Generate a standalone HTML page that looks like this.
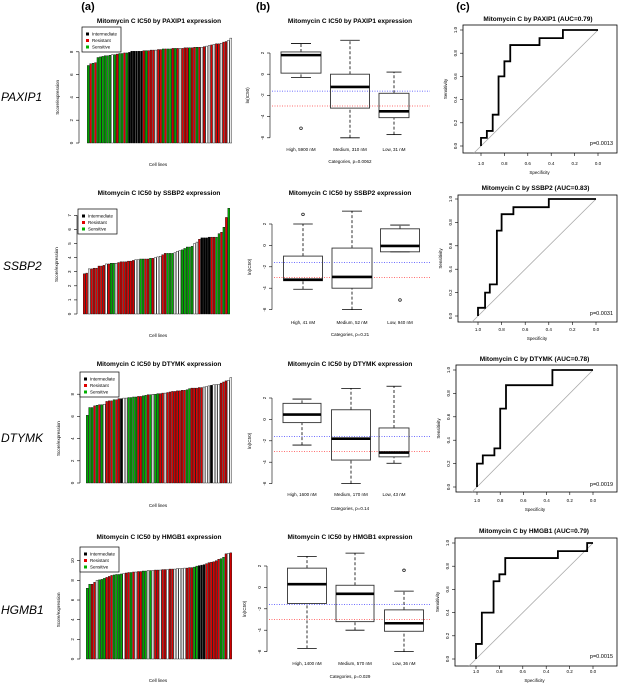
<!DOCTYPE html>
<html><head><meta charset="utf-8"><style>
html,body{margin:0;padding:0;background:#fff;}
svg{display:block;font-family:"Liberation Sans",sans-serif;}
</style></head><body>
<svg id="fig" width="619" height="685" viewBox="0 0 619 685">
<text x="88" y="10" font-size="11" font-weight="bold" text-anchor="middle">(a)</text>
<text x="263" y="10" font-size="11" font-weight="bold" text-anchor="middle">(b)</text>
<text x="463" y="10" font-size="11" font-weight="bold" text-anchor="middle">(c)</text>
<text x="1" y="101" font-size="12" font-style="italic" text-anchor="start">PAXIP1</text>
<text x="3" y="270" font-size="12" font-style="italic" text-anchor="start">SSBP2</text>
<text x="1" y="442" font-size="12" font-style="italic" text-anchor="start">DTYMK</text>
<text x="1" y="614" font-size="12" font-style="italic" text-anchor="start">HGMB1</text>
</svg>
<script>
// ---------- data ----------
const genes = ["PAXIP1","SSBP2","DTYMK","HMGB1"];
const barVals1 = [6.8,6.95,7.0,7.05,7.5,7.55,7.6,7.65,7.65,7.7,7.75,7.75,7.8,7.85,7.85,7.9,7.9,7.95,8.05,8.05,8.05,8.05,8.05,8.1,8.1,8.1,8.15,8.15,8.15,8.2,8.2,8.25,8.25,8.25,8.25,8.3,8.3,8.3,8.3,8.3,8.35,8.35,8.35,8.35,8.4,8.4,8.4,8.4,8.45,8.5,8.55,8.6,8.65,8.7,8.7,8.75,8.85,8.9,9.0,9.2];
const barCols1 = "GRGRGGGGGGWGRGGRGKKKKKKRGRRRWRRGRGGRGRWRRRGRRGRWRWWRWRRWRRWW";
const barVals2 = [2.85,2.9,3.2,3.2,3.25,3.25,3.4,3.4,3.45,3.55,3.55,3.6,3.6,3.6,3.65,3.7,3.7,3.7,3.75,3.75,3.8,3.85,3.85,3.9,3.9,3.9,3.9,3.95,3.95,4.0,4.05,4.1,4.2,4.3,4.3,4.3,4.3,4.35,4.45,4.5,4.55,4.65,4.75,4.75,4.8,5.0,5.1,5.3,5.4,5.4,5.4,5.45,5.45,5.45,5.45,5.7,5.8,6.15,6.85,7.5];
const barCols2 = "RRWRRRRRRWRGGWRRRRRRRWWGGRRGRWWWRRGGGWWWGGGGGWWRKKKKRRGGRGRG";
const barVals3 = [6.1,6.8,6.8,6.95,7.0,7.05,7.05,7.1,7.35,7.4,7.4,7.5,7.5,7.6,7.6,7.65,7.65,7.7,7.7,7.75,7.75,7.8,7.8,7.85,7.9,7.95,7.95,8.0,8.0,8.05,8.05,8.1,8.1,8.15,8.2,8.25,8.25,8.3,8.3,8.35,8.35,8.4,8.5,8.55,8.55,8.55,8.6,8.6,8.65,8.7,8.75,8.8,8.85,8.85,8.9,9.0,9.1,9.2,9.25,9.5];
const barCols3 = "GGGRGRGWRRRGRRKWWGGGGRRGGRGWGGRRWRRRRRRRRGGRRRRRWWWKWWWRRRWW";
const barVals4 = [7.2,7.6,7.6,7.8,8.0,8.05,8.1,8.2,8.3,8.4,8.5,8.55,8.6,8.6,8.65,8.7,8.75,8.8,8.8,8.85,8.85,8.9,8.9,8.95,8.95,9.0,9.0,9.0,9.05,9.05,9.05,9.1,9.1,9.1,9.15,9.15,9.15,9.2,9.2,9.2,9.25,9.25,9.3,9.3,9.35,9.45,9.5,9.55,9.6,9.7,9.8,9.85,9.9,10.0,10.15,10.2,10.35,10.7,10.75,10.8];
const barCols4 = "GGRRWGGGRRRGGGGWRRGRWRRGGWGWRRWRRWRRWWWWWRRRGGKKKRRRRRRGGRWR";
const barTicks1 = [0,2,4,6,8];
const barTicks2 = [0,1,2,3,4,5,6,7];
const barTicks3 = [0,2,4,6,8];
const barTicks4 = [0,2,4,6,8,10];
// box stats: [lowWhisker, Q1, median, Q3, highWhisker]
const boxStats1 = [[-0.3,0.1,1.8,2.1,2.9],[-6,-3.2,-1.2,0.0,3.2],[-5.7,-4.1,-3.5,-1.8,0.2]];
const boxStats2 = [[-4.1,-3.3,-3.2,-1.0,2.0],[-6,-4.0,-2.95,-0.25,3.2],[-0.6,-0.6,-0.05,1.55,1.9]];
const boxStats3 = [[-2.4,-0.3,0.45,1.5,1.9],[-6,-3.8,-1.8,0.9,2.9],[-4.1,-3.5,-3.1,-0.8,3.1]];
const boxStats4 = [[-5.7,-1.5,0.3,1.8,2.9],[-4.0,-3.2,-0.6,0.2,3.2],[-6.0,-4.1,-3.35,-2.1,-0.35]];
const boxOutliers1 = [[-5.1],[],[]];
const boxOutliers2 = [[2.9],[],[-5.1]];
const boxOutliers3 = [[],[],[]];
const boxOutliers4 = [[],[],[1.6]];
const boxLabels1 = ["High, 5900 nM","Medium, 310 nM","Low, 31 nM"];
const boxLabels2 = ["High, 41 nM","Medium, 52 nM","Low, 940 nM"];
const boxLabels3 = ["High, 1600 nM","Medium, 170 nM","Low, 43 nM"];
const boxLabels4 = ["High, 1400 nM","Medium, 570 nM","Low, 36 nM"];
const boxPvals = ["0.0062","0.21","0.14","0.029"];
const boxTicks = [-6,-4,-2,0,2];
const refBlue = -1.6;
const refRed = -3.0;
const rocSpec1 = [1,1,0.95,0.95,0.9,0.9,0.85,0.85,0.8,0.8,0.75,0.75,0.5,0.5,0.3,0.3,0];
const rocSens1 = [0,0.07,0.07,0.13,0.13,0.27,0.27,0.6,0.6,0.73,0.73,0.87,0.87,0.93,0.93,1,1];
const rocSpec2 = [1,1,0.94,0.94,0.9,0.9,0.84,0.84,0.8,0.8,0.7,0.7,0.4,0.4,0];
const rocSens2 = [0,0.07,0.07,0.2,0.2,0.27,0.27,0.73,0.73,0.87,0.87,0.93,0.93,1,1];
const rocSpec3 = [1,1,0.95,0.95,0.85,0.85,0.8,0.8,0.75,0.75,0.35,0.35,0];
const rocSens3 = [0,0.2,0.2,0.27,0.27,0.33,0.33,0.67,0.67,0.87,0.87,1,1];
const rocSpec4 = [1,1,0.95,0.95,0.85,0.85,0.8,0.8,0.75,0.75,0.3,0.3,0.05,0.05,0];
const rocSens4 = [0,0.13,0.13,0.4,0.4,0.67,0.67,0.73,0.73,0.87,0.87,0.93,0.93,1,1];
const rocAUC = ["0.79","0.83","0.78","0.79"];
const rocP = ["0.0013","0.0031","0.0019","0.0015"];
const rocTicks = [0,0.2,0.4,0.6,0.8,1.0];

// ---------- layout ----------
const L = [
 {bt:23, bAx:79, b0:143, bU:11.4, bx0:87, bx1:232, lg:[82,27], cl:166, ylab:59,
  xAx:270, x2:53, xU:10.6, cs:[301,350,394], ws:[40,39,30], xl:151, cat:163, xr:430,
  rf:[463,25,617,153], r1x:481, r0x:598, r0y:146, r1y:30, rt:21, rl:165, rs:174},
 {bt:195, bAx:77, b0:314, bU:14.1, bx0:83, bx1:230, lg:[78,209], cl:337, ylab:58,
  xAx:272, x2:224, xU:10.7, cs:[303,352,400], ws:[39,40,39], xl:324, cat:336, xr:430,
  rf:[458,195,617,322], r1x:478, r0x:596, r0y:316, r1y:199, rt:190, rl:331, rs:340},
 {bt:366, bAx:80, b0:483, bU:11.1, bx0:86, bx1:232, lg:[80,372], cl:507, ylab:60,
  xAx:272, x2:398, xU:10.7, cs:[302,351,394], ws:[38,39,30], xl:496, cat:510, xr:430,
  rf:[456,365,617,492], r1x:477, r0x:593, r0y:487, r1y:370, rt:361, rl:502, rs:511},
 {bt:539, bAx:80, b0:659, bU:9.83, bx0:86, bx1:232, lg:[80,547], cl:682, ylab:60,
  xAx:267, x2:566, xU:10.7, cs:[307,355,404], ws:[39,38,39], xl:665, cat:678, xr:430,
  rf:[455,538,617,666], r1x:476, r0x:593, r0y:659, r1y:543, rt:533, rl:673, rs:682}
];
const barVals=[barVals1,barVals2,barVals3,barVals4], barCols=[barCols1,barCols2,barCols3,barCols4];
const barTicks=[barTicks1,barTicks2,barTicks3,barTicks4];
const boxStats=[boxStats1,boxStats2,boxStats3,boxStats4], boxOut=[boxOutliers1,boxOutliers2,boxOutliers3,boxOutliers4];
const boxLabels=[boxLabels1,boxLabels2,boxLabels3,boxLabels4];
const rocSpec=[rocSpec1,rocSpec2,rocSpec3,rocSpec4], rocSens=[rocSens1,rocSens2,rocSens3,rocSens4];
const COL={G:"#00b000",R:"#e00000",K:"#000000",W:"#ffffff"};
const NS="http://www.w3.org/2000/svg";
const svg=document.getElementById("fig");
function mk(tag,a,parent){const e=document.createElementNS(NS,tag);for(const k in a)e.setAttribute(k,a[k]);(parent||svg).appendChild(e);return e;}
function txt(x,y,s,size,a,parent){const e=mk("text",Object.assign({x:x,y:y,"font-size":size,"text-anchor":"middle"},a||{}),parent);e.textContent=s;return e;}

for(let r=0;r<4;r++){
 const c=L[r];
 // ===== bar panel =====
 const gA=mk("g",{});
 
 
 const yB=v=>c.b0-v*c.bU;
 let t=txt(159,c.bt,"Mitomycin C IC50 by "+genes[r]+" expression",6.5,{"font-weight":"bold"},gA);
 
 
 const vals=barVals[r], n=vals.length, step=(c.bx1-c.bx0)/n;
 vals.forEach((v,i)=>{
  const b=mk("rect",{x:(c.bx0+i*step+0.3).toFixed(2),y:yB(v).toFixed(2),width:(step-0.6).toFixed(2),height:(c.b0-yB(v)).toFixed(2),fill:COL[barCols[r][i]]||"#fff",stroke:"#000","stroke-width":0.4},gA);
  
  
 });
 const tk=barTicks[r];
 const ax=mk("line",{x1:c.bAx,x2:c.bAx,y1:yB(tk[0]),y2:yB(tk[tk.length-1]),stroke:"#000","stroke-width":0.6},gA);
 
 
 tk.forEach(v=>{
  mk("line",{x1:c.bAx-3,x2:c.bAx,y1:yB(v),y2:yB(v),stroke:"#000","stroke-width":0.6},gA);
  const l=txt(c.bAx-6,yB(v),String(v),4.5,{transform:`rotate(-90 ${c.bAx-6} ${yB(v)})`},gA);
  
  
 });
 const yl=txt(c.ylab,(c.b0+yB(tk[tk.length-1]))/2,"Score/expression",4.5,{transform:`rotate(-90 ${c.ylab} ${(c.b0+yB(tk[tk.length-1]))/2})`},gA);
 
 
 const xl=txt(158,c.cl,"Cell lines",4.5,{},gA);
 
 
 const lg=mk("g",{},gA);
 
 
 mk("rect",{x:c.lg[0],y:c.lg[1],width:39,height:25,fill:"#fff",stroke:"#000","stroke-width":0.7},lg);
 [["Intermediate","K"],["Resistant","R"],["Sensitive","G"]].forEach((e,i)=>{
  const yy=c.lg[1]+7+i*6.5;
  const s=mk("rect",{x:c.lg[0]+4,y:yy-1.5,width:3,height:3,fill:COL[e[1]]},lg);
  
  
  const lt=txt(c.lg[0]+10,yy+1.6,e[0],4.5,{"text-anchor":"start"},lg);
  
  
 });

 // ===== box panel =====
 const gB=mk("g",{});
 
 
 const yX=v=>c.x2+(2-v)*c.xU;
 t=txt(350,c.bt,"Mitomycin C IC50 by "+genes[r]+" expression",6.5,{"font-weight":"bold"},gB);
 
 
 const bax=mk("line",{x1:c.xAx,x2:c.xAx,y1:yX(-6),y2:yX(2),stroke:"#000","stroke-width":0.6},gB);
 
 
 boxTicks.forEach(v=>{
  mk("line",{x1:c.xAx-3,x2:c.xAx,y1:yX(v),y2:yX(v),stroke:"#000","stroke-width":0.6},gB);
  const l=txt(c.xAx-6,yX(v),String(v),4.5,{transform:`rotate(-90 ${c.xAx-6} ${yX(v)})`},gB);
  
  
 });
 const byl=txt(c.xAx-21,yX(-2),"ln(IC50)",4.5,{transform:`rotate(-90 ${c.xAx-21} ${yX(-2)})`},gB);
 
 
 const bl=mk("line",{x1:c.xAx+2,x2:c.xr,y1:yX(refBlue),y2:yX(refBlue),stroke:"#4040ff","stroke-width":0.8,"stroke-dasharray":"1,1.5"},gB);
 
 
 const rl=mk("line",{x1:c.xAx+2,x2:c.xr,y1:yX(refRed),y2:yX(refRed),stroke:"#ff4040","stroke-width":0.8,"stroke-dasharray":"1,1.5"},gB);
 
 
 boxStats[r].forEach((s,i)=>{
  const cx=c.cs[i], w=c.ws[i];
  const g=mk("g",{},gB);
  
  
  mk("line",{x1:cx,x2:cx,y1:yX(s[0]),y2:yX(s[1]),stroke:"#000","stroke-width":0.8,"stroke-dasharray":"3,2"},g);
  mk("line",{x1:cx,x2:cx,y1:yX(s[3]),y2:yX(s[4]),stroke:"#000","stroke-width":0.8,"stroke-dasharray":"3,2"},g);
  mk("line",{x1:cx-w/4,x2:cx+w/4,y1:yX(s[0]),y2:yX(s[0]),stroke:"#000","stroke-width":0.8},g);
  mk("line",{x1:cx-w/4,x2:cx+w/4,y1:yX(s[4]),y2:yX(s[4]),stroke:"#000","stroke-width":0.8},g);
  mk("rect",{x:cx-w/2,y:yX(s[3]),width:w,height:Math.max(0.5,yX(s[1])-yX(s[3])),fill:"none",stroke:"#333","stroke-width":0.9},g);
  mk("line",{x1:cx-w/2,x2:cx+w/2,y1:yX(s[2]),y2:yX(s[2]),stroke:"#000","stroke-width":2.6},g);
  boxOut[r][i].forEach(o=>{mk("circle",{cx:cx,cy:yX(o),r:1.3,fill:"none",stroke:"#000","stroke-width":0.7},g);});
  const lb=txt(cx,c.xl,boxLabels[r][i],4.5,{},gB);
  
  
 });
 const ct=txt(350,c.cat,"Categories, p="+boxPvals[r],4.5,{},gB);
 
 

 // ===== ROC panel =====
 const gC=mk("g",{});
 
 
 const f=c.rf;
 const xS=s=>c.r0x+(c.r1x-c.r0x)*s;
 const yS=s=>c.r0y+(c.r1y-c.r0y)*s;
 t=txt((f[0]+f[2])/2-2,c.rt,"Mitomycin C by "+genes[r]+" (AUC="+rocAUC[r]+")",6.5,{"font-weight":"bold"},gC);
 
 
 const fr=mk("rect",{x:f[0],y:f[1],width:f[2]-f[0],height:f[3]-f[1],fill:"none",stroke:"#000","stroke-width":0.8},gC);
 
 
 // diagonal sens = 1 - spec, clipped at frame bottom
 const sB=(c.r0y-f[3])/(c.r0y-c.r1y); // sens at frame bottom (negative)
 const dg=mk("line",{x1:xS(1-sB),y1:f[3],x2:xS(0),y2:yS(1),stroke:"#aaa","stroke-width":0.8},gC);
 
 
 let d="";
 rocSpec[r].forEach((s,i)=>{d+=(i?"L":"M")+xS(s).toFixed(2)+","+yS(rocSens[r][i]).toFixed(2);});
 const p=mk("path",{d:d,fill:"none",stroke:"#000","stroke-width":1.8},gC);
 
 
 rocTicks.forEach(v=>{
  mk("line",{x1:f[0]-3,x2:f[0],y1:yS(v),y2:yS(v),stroke:"#000","stroke-width":0.6},gC);
  const l=txt(f[0]-6,yS(v),v.toFixed(1),4.5,{transform:`rotate(-90 ${f[0]-6} ${yS(v)})`},gC);
  
  
  mk("line",{x1:xS(v),x2:xS(v),y1:f[3],y2:f[3]+3,stroke:"#000","stroke-width":0.6},gC);
  const xlb=txt(xS(v),c.rl,v.toFixed(1),4.5,{},gC);
  
  
 });
 const sy=txt(f[0]-16,(f[1]+f[3])/2,"Sensitivity",4.5,{transform:`rotate(-90 ${f[0]-16} ${(f[1]+f[3])/2})`},gC);
 
 
 const sx=txt(xS(0.5),c.rs,"Specificity",4.5,{},gC);
 
 
 const pv=txt(f[2]-4,c.r0y-1,"p="+rocP[r],5.5,{"text-anchor":"end"},gC);
 
 
}
</script>
</body></html>
